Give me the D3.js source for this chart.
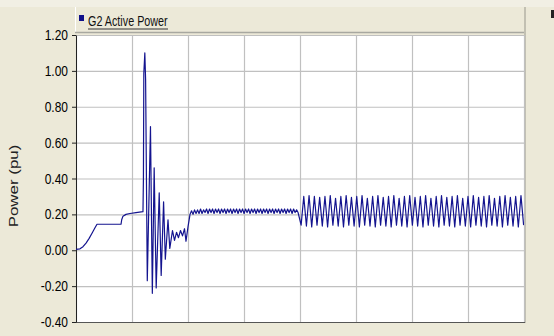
<!DOCTYPE html>
<html>
<head>
<meta charset="utf-8">
<script src="https://cdn.jsdelivr.net/npm/d3@7"></script>
<style>
  body { margin: 0; background: #ece9d8; }
  svg { display: block; font-family: "Liberation Sans", Arial, sans-serif; }
</style>
</head>
<body>
<div id="app"></div>
<script>
const seriesName = "G2 Active Power";
const yTitle = "Power (pu)";

// y axis ticks
const yTicks = [-0.4, -0.2, 0, 0.2, 0.4, 0.6, 0.8, 1.0, 1.2];
const yTickLabels = ["-0.40", "-0.20", "0.00", "0.20", "0.40", "0.60", "0.80", "1.00", "1.20"];
// x grid (no labels on the original)
const xTicks = [0, 1, 2, 3, 4, 5, 6, 7, 8];

// start-up ramp and plateau
const startT = [0, 0.071, 0.125, 0.179, 0.232, 0.286, 0.339, 0.375, 0.804, 0.816, 0.839, 0.893, 0.964, 1.071, 1.196];
const startV = [0.005, 0.008, 0.02, 0.04, 0.065, 0.095, 0.125, 0.145, 0.145, 0.17, 0.19, 0.2, 0.205, 0.21, 0.215];

// disturbance swing
const faultT = [1.204, 1.211, 1.229, 1.243, 1.273, 1.33, 1.363, 1.396, 1.432, 1.486, 1.521, 1.564, 1.595, 1.643, 1.675,
  1.723, 1.759, 1.795, 1.83, 1.866, 1.902, 1.938, 1.964, 2.0, 2.036];
const faultV = [0.40, 0.985, 1.10, 0.95, -0.17, 0.69, -0.24, 0.46, -0.21, 0.32, -0.14, 0.27, -0.05, 0.17, 0.01,
  0.11, 0.055, 0.10, 0.07, 0.11, 0.08, 0.12, 0.05, 0.13, 0.20];

// small ripple, sampled every half period
const rippleT0 = 2.063;
const rippleDt = 0.0268;
const rippleV = [
  0.22, 0.20, 0.225, 0.205, 0.225, 0.205, 0.23, 0.205, 0.225, 0.21,
  0.23, 0.205, 0.23, 0.21, 0.23, 0.205, 0.23, 0.21, 0.23, 0.205,
  0.23, 0.21, 0.23, 0.205, 0.23, 0.21, 0.23, 0.205, 0.23, 0.21,
  0.23, 0.205, 0.23, 0.21, 0.23, 0.205, 0.23, 0.21, 0.23, 0.205,
  0.23, 0.21, 0.23, 0.205, 0.23, 0.21, 0.23, 0.205, 0.23, 0.21,
  0.23, 0.205, 0.23, 0.21, 0.23, 0.205, 0.23, 0.21, 0.23, 0.205,
  0.23, 0.21, 0.23, 0.205, 0.23, 0.21, 0.23, 0.205, 0.23, 0.21,
  0.225, 0.21
];

// sustained oscillation, sampled every half period
const swingT0 = 4.02;
const swingDt = 0.0473;
const swingV = [
  0.14, 0.30, 0.135, 0.305, 0.13, 0.30, 0.14, 0.295, 0.135, 0.30,
  0.13, 0.305, 0.14, 0.29, 0.135, 0.30, 0.13, 0.305, 0.14, 0.295,
  0.135, 0.30, 0.13, 0.305, 0.14, 0.29, 0.135, 0.30, 0.13, 0.305,
  0.14, 0.295, 0.135, 0.30, 0.13, 0.305, 0.14, 0.29, 0.135, 0.30,
  0.13, 0.305, 0.14, 0.295, 0.135, 0.30, 0.13, 0.305, 0.14, 0.29,
  0.135, 0.30, 0.13, 0.305, 0.14, 0.295, 0.135, 0.30, 0.13, 0.305,
  0.14, 0.29, 0.135, 0.30, 0.13, 0.305, 0.14, 0.295, 0.135, 0.30,
  0.13, 0.305, 0.14, 0.29, 0.135, 0.30, 0.13, 0.305, 0.14, 0.295,
  0.135, 0.30, 0.13, 0.305, 0.14
];

const W = 554;
const H = 336;
const plot = { left: 76, right: 524, top: 35, bottom: 322 };

// join everything into one series
const points = [];
startT.forEach((t, i) => points.push([t, startV[i]]));
faultT.forEach((t, i) => points.push([t, faultV[i]]));
rippleV.forEach((v, i) => points.push([rippleT0 + i * rippleDt, v]));
swingV.forEach((v, i) => points.push([swingT0 + i * swingDt, v]));

const x = d3.scaleLinear().domain([0, 8]).range([plot.left, plot.right]);
const y = d3.scaleLinear().domain([-0.4, 1.2]).range([plot.bottom, plot.top]);

const svg = d3.select("#app").append("svg").attr("width", W).attr("height", H);

// background
svg.append("rect").attr("width", W).attr("height", H).attr("fill", "#ece9d8");
svg.append("rect").attr("width", W).attr("height", 7).attr("fill", "#f1efe4");

// legend band
svg.append("rect")
  .attr("x", plot.left - 1).attr("y", 7)
  .attr("width", plot.right - plot.left + 1).attr("height", 26)
  .attr("fill", "#ece9d8");
svg.append("line")
  .attr("x1", plot.left - 0.5).attr("x2", plot.left - 0.5)
  .attr("y1", 7).attr("y2", 33)
  .attr("stroke", "#ffffff");
svg.append("line")
  .attr("x1", plot.left - 1).attr("x2", plot.right)
  .attr("y1", 32.5).attr("y2", 32.5)
  .attr("stroke", "#a8a8a0").attr("stroke-width", 1.5);

// right panel separator and the clipped mark at the far edge
svg.append("line")
  .attr("x1", plot.right + 1).attr("x2", plot.right + 1)
  .attr("y1", 7).attr("y2", plot.bottom + 1)
  .attr("stroke", "#b4b2a6").attr("stroke-width", 1.5);
svg.append("rect")
  .attr("x", 551).attr("y", 10)
  .attr("width", 3).attr("height", 8)
  .attr("fill", "#222");

// plot area
svg.append("rect")
  .attr("x", plot.left).attr("y", plot.top)
  .attr("width", plot.right - plot.left).attr("height", plot.bottom - plot.top)
  .attr("fill", "#ffffff");

// grid
svg.append("g")
  .attr("transform", `translate(${plot.left},0)`)
  .call(d3.axisLeft(y).tickValues(yTicks).tickSize(-(plot.right - plot.left)).tickFormat(""))
  .call((g) => g.select(".domain").remove())
  .call((g) => g.selectAll("line").attr("stroke", "#c0c0c0").attr("stroke-width", 1.2));

svg.append("g")
  .attr("transform", `translate(0,${plot.bottom})`)
  .call(d3.axisBottom(x).tickValues(xTicks).tickSize(-(plot.bottom - plot.top)).tickFormat(""))
  .call((g) => g.select(".domain").remove())
  .call((g) => g.selectAll("line").attr("stroke", "#c0c0c0").attr("stroke-width", 1.2));

// bottom border
svg.append("line")
  .attr("x1", plot.left).attr("x2", plot.right + 1)
  .attr("y1", plot.bottom + 0.5).attr("y2", plot.bottom + 0.5)
  .attr("stroke", "#555").attr("stroke-width", 1);

// y axis with labels
const yAxis = svg.append("g")
  .attr("transform", `translate(${plot.left},0)`)
  .call(d3.axisLeft(y)
    .tickValues(yTicks)
    .tickSize(4)
    .tickSizeOuter(0)
    .tickPadding(4)
    .tickFormat((d, i) => yTickLabels[i]));
yAxis.select(".domain").attr("stroke", "#222");
yAxis.selectAll("line").attr("stroke", "#222");
yAxis.selectAll("text")
  .attr("font-size", 12)
  .attr("font-family", "\"Liberation Sans\", Arial, sans-serif")
  .attr("fill", "#000")
  .attr("transform", "scale(1,1.25)")
  .attr("dy", "0.3em");

// y title
svg.append("text")
  .attr("transform", "translate(18,186) scale(1,1.3) rotate(-90)")
  .attr("text-anchor", "middle")
  .attr("font-size", 13)
  .attr("fill", "#222")
  .text(yTitle);

// series
svg.append("clipPath").attr("id", "clip")
  .append("rect")
  .attr("x", plot.left).attr("y", plot.top)
  .attr("width", plot.right - plot.left).attr("height", plot.bottom - plot.top);

const line = d3.line().x((d) => x(d[0])).y((d) => y(d[1]));

svg.append("path")
  .datum(points)
  .attr("clip-path", "url(#clip)")
  .attr("fill", "none")
  .attr("stroke", "#14148f")
  .attr("stroke-width", 1.2)
  .attr("stroke-linejoin", "round")
  .attr("d", line);

// legend
svg.append("rect")
  .attr("x", 79).attr("y", 15)
  .attr("width", 5).attr("height", 6)
  .attr("fill", "#10108a");
svg.append("text")
  .attr("transform", "translate(88,26) scale(1,1.32)")
  .attr("font-size", 10.8)
  .attr("fill", "#111")
  .text(seriesName);
svg.append("line")
  .attr("x1", 88).attr("x2", 168)
  .attr("y1", 29).attr("y2", 29)
  .attr("stroke", "#333").attr("stroke-width", 1.2);
</script>
</body>
</html>
